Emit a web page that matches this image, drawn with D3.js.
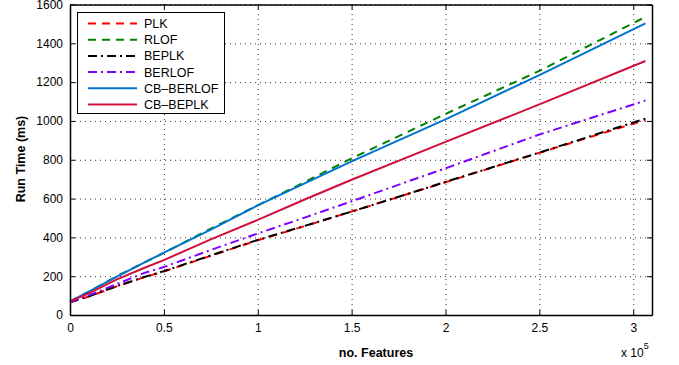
<!DOCTYPE html>
<html>
<head>
<meta charset="utf-8">
<script src="https://cdn.jsdelivr.net/npm/d3@7"></script>
<style>
  body { margin: 0; background: #fff; }
  text { font-family: "Liberation Sans", Arial, sans-serif; }
</style>
</head>
<body>
<script>
// run time vs number of features, six trackers

var width = 679;
var height = 365;

// x positions (no. features)
var features = [0, 10000, 25000, 40000, 50000, 75000, 100000, 125000, 150000, 200000, 250000, 306500];

var plk      = [65, 95, 148, 196, 224, 305, 385, 458, 533, 684, 836, 1005];
var rlof     = [70, 120, 200, 272, 320, 445, 565, 685, 807, 1036, 1258, 1536];
var beplk    = [65, 96, 149, 197, 226, 307, 387, 459, 533, 686, 837, 1012];
var berlof   = [66, 101, 160, 218, 247, 335, 420, 502, 586, 756, 930, 1105];
var cbBerlof = [70, 121, 198, 272, 321, 440, 565, 678, 792, 1008, 1236, 1503];
var cbBeplk  = [70, 111, 184, 245, 283, 390, 490, 595, 697, 892, 1085, 1309];

var seriesNames = ["PLK", "RLOF", "BEPLK", "BERLOF", "CB\u2013BERLOF", "CB\u2013BEPLK"];
var seriesValues = [plk, rlof, beplk, berlof, cbBerlof, cbBeplk];
var seriesColors = ["#ff0000", "#008000", "#000000", "#8000ff", "#0072d0", "#d0103a"];
var seriesDash = ["8,6", "8,6", "9,4,2,4", "9,4,2,4", null, null];

var xTicks = [0, 50000, 100000, 150000, 200000, 250000, 300000];
var yTicks = [0, 200, 400, 600, 800, 1000, 1200, 1400, 1600];

var plotL = 70, plotR = 652, plotT = 4.5, plotB = 315;

var svg = d3.select("body").append("svg")
    .attr("width", width)
    .attr("height", height);

var x = d3.scaleLinear().domain([0, 310000]).range([plotL, plotR]);
var y = d3.scaleLinear().domain([0, 1600]).range([plotB, plotT]);

// dotted grid
svg.append("g")
    .attr("transform", "translate(0," + plotB + ")")
    .call(d3.axisBottom(x).tickValues(xTicks).tickSize(-(plotB - plotT)).tickFormat(""))
    .call(function(g) { g.select(".domain").remove(); })
    .selectAll("line")
    .attr("stroke", "#333")
    .attr("stroke-dasharray", "1,4");

svg.append("g")
    .attr("transform", "translate(" + plotL + ",0)")
    .call(d3.axisLeft(y).tickValues(yTicks).tickSize(-(plotR - plotL)).tickFormat(""))
    .call(function(g) { g.select(".domain").remove(); })
    .selectAll("line")
    .attr("stroke", "#333")
    .attr("stroke-dasharray", "1,4");

// lines
var line = d3.line()
    .x(function(d) { return x(d[0]); })
    .y(function(d) { return y(d[1]); });

seriesValues.forEach(function(vals, i) {
  svg.append("path")
      .datum(features.map(function(f, j) { return [f, vals[j]]; }))
      .attr("d", line)
      .attr("fill", "none")
      .attr("stroke", seriesColors[i])
      .attr("stroke-width", 2)
      .attr("stroke-dasharray", seriesDash[i]);
});

// axes, ticks pointing in
svg.append("g")
    .attr("class", "ax")
    .attr("transform", "translate(0," + plotB + ")")
    .call(d3.axisBottom(x).tickValues(xTicks).tickSizeInner(-5).tickSizeOuter(0).tickPadding(8)
      .tickFormat(function(d) { return d / 100000; }));
svg.append("g")
    .attr("class", "ax")
    .attr("transform", "translate(0," + plotT + ")")
    .call(d3.axisTop(x).tickValues(xTicks).tickSizeInner(-5).tickSizeOuter(0).tickFormat(""));
svg.append("g")
    .attr("class", "ax")
    .attr("transform", "translate(" + plotL + ",0)")
    .call(d3.axisLeft(y).tickValues(yTicks).tickSizeInner(-5).tickSizeOuter(0).tickPadding(7)
      .tickFormat(d3.format("d")));
svg.append("g")
    .attr("class", "ax")
    .attr("transform", "translate(" + plotR + ",0)")
    .call(d3.axisRight(y).tickValues(yTicks).tickSizeInner(-5).tickSizeOuter(0).tickFormat(""));

svg.selectAll(".ax .tick text")
    .attr("font-size", 12)
    .attr("font-family", "Liberation Sans, Arial, sans-serif")
    .attr("fill", "#000");
svg.selectAll(".ax .domain").attr("stroke", "#000").attr("stroke-width", 1.5);
svg.selectAll(".ax .tick line").attr("stroke", "#000");

// labels
svg.append("text")
    .attr("x", 376).attr("y", 357)
    .attr("text-anchor", "middle")
    .attr("font-size", 12.5).attr("font-weight", "bold")
    .text("no. Features");

svg.append("text")
    .attr("transform", "translate(25,159) rotate(-90)")
    .attr("text-anchor", "middle")
    .attr("font-size", 12.5).attr("font-weight", "bold")
    .text("Run Time (ms)");

var expo = svg.append("text")
    .attr("x", 621).attr("y", 357)
    .attr("font-size", 12);
expo.append("tspan").text("x 10");
expo.append("tspan").attr("dy", -8).attr("font-size", 9).text("5");

// legend
var legend = svg.append("g");
legend.append("rect")
    .attr("x", 77.5).attr("y", 12.5)
    .attr("width", 147).attr("height", 101)
    .attr("fill", "#fff")
    .attr("stroke", "#000")
    .attr("stroke-width", 1);

seriesNames.forEach(function(name, i) {
  var ly = 23.5 + i * 16.2;
  legend.append("line")
      .attr("x1", 88).attr("x2", 137)
      .attr("y1", ly).attr("y2", ly)
      .attr("stroke", seriesColors[i])
      .attr("stroke-width", 2)
      .attr("stroke-dasharray", seriesDash[i]);
  legend.append("text")
      .attr("x", 144).attr("y", ly + 4.5)
      .attr("font-size", 12.5)
      .text(name);
});
</script>
</body>
</html>
